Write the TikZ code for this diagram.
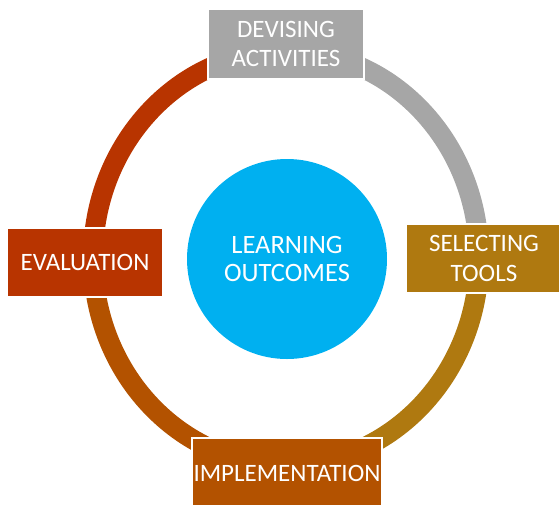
\documentclass[tikz,border=0pt]{standalone}
\usepackage{fontspec}
\setmainfont{Carlito}
\usetikzlibrary{calc}
\definecolor{evalred}{RGB}{184,52,0}
\definecolor{devgray}{RGB}{166,166,166}
\definecolor{selgold}{RGB}{175,121,16}
\definecolor{implorange}{RGB}{179,82,0}
\definecolor{lblue}{RGB}{0,176,240}
\begin{document}
\begin{tikzpicture}[x=1pt,y=-1pt,
  ring/.style={line width=20pt},
  boxnode/.style={draw=white, line width=1.5pt, inner sep=0pt, align=center,
    text=white, font=\fontsize{25}{29.5}\selectfont},
  hubnode/.style={circle, fill=lblue, minimum size=200pt, inner sep=0pt, align=center,
    text=white, font=\fontsize{26.5}{28}\selectfont}]
\useasboundingbox (0,0) rectangle (559,504);
\begin{scope}
\clip (0,0) rectangle (559,504);
% ring centre
\coordinate (rc) at (286,258);
\coordinate (pL) at ($(rc)+(180:193pt and 207pt)$);
\coordinate (pT) at ($(rc)+(90:193pt and 207pt)$);
\coordinate (pR) at ($(rc)+(0:193pt and 207pt)$);
\coordinate (pB) at ($(rc)+(270:193pt and 207pt)$);
\draw[ring, evalred] (pL) arc[start angle=180, end angle=90, x radius=193pt, y radius=207pt];
\draw[ring, devgray] (pT) arc[start angle=90, end angle=0, x radius=193pt, y radius=207pt];
\draw[ring, selgold] (pR) arc[start angle=0, end angle=-90, x radius=193pt, y radius=207pt];
\draw[ring, implorange] (pB) arc[start angle=-90, end angle=-180, x radius=193pt, y radius=207pt];

\node[hubnode] (hub) at (287,259) {LEARNING\\OUTCOMES};
\node[boxnode, fill=devgray, minimum width=156pt, minimum height=70pt] (dev) at (286,44) {DEVISING\\ACTIVITIES};
\node[boxnode, fill=evalred, minimum width=156pt, minimum height=69pt] (eval) at (85,262.5) {EVALUATION};
\node[boxnode, fill=selgold, minimum width=156pt, minimum height=69pt] (sel) at (484,258.5) {SELECTING\\TOOLS};
\node[boxnode, fill=implorange, minimum width=190pt, minimum height=70pt] (impl) at (287,473) {IMPLEMENTATION};
\end{scope}
\end{tikzpicture}
\end{document}
